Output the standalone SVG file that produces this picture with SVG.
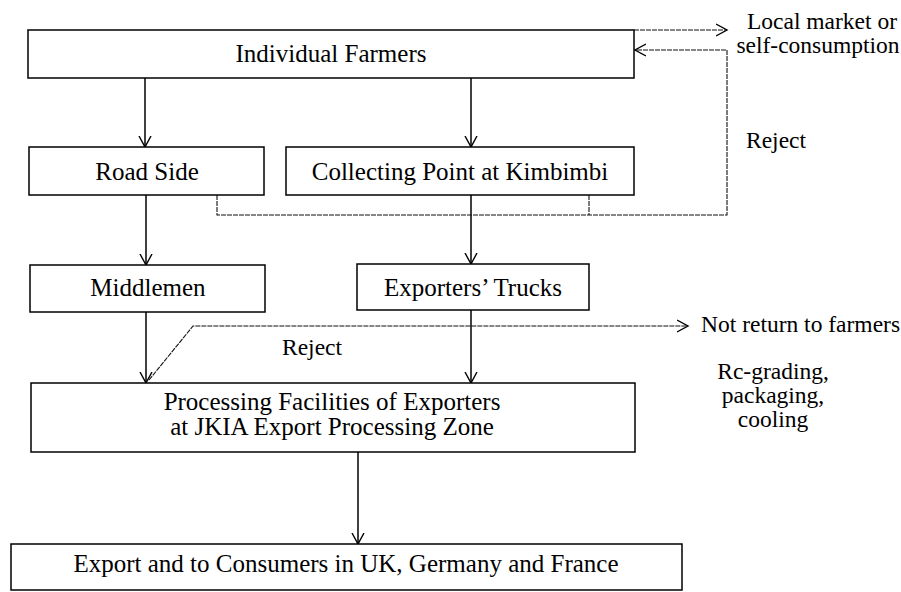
<svg xmlns="http://www.w3.org/2000/svg" width="901" height="592" viewBox="0 0 901 592">
<style>
.box{fill:#fff;stroke:#000;stroke-width:1.5}
.t{font-family:"Liberation Serif","Times New Roman",serif;font-size:25px;fill:#000;text-anchor:middle}
.s{font-family:"Liberation Serif","Times New Roman",serif;font-size:23.5px;fill:#000}
.a{fill:none;stroke:#000;stroke-width:1.5}
.r{fill:none;stroke:#111;stroke-width:1.1;stroke-dasharray:5 1}
</style>
<defs>
<marker id="v" markerUnits="userSpaceOnUse" markerWidth="14" markerHeight="14" refX="11" refY="6" orient="auto" viewBox="0 0 14 12">
<path d="M0,0 L11,6 L0,12" fill="none" stroke="#000" stroke-width="1.4"/>
</marker>
</defs>
<rect width="901" height="592" fill="#fff"/>
<g id="connectors">
<line class="a" x1="145" y1="78" x2="145" y2="147" marker-end="url(#v)"/>
<line class="a" x1="471" y1="78" x2="471" y2="147" marker-end="url(#v)"/>
<line class="a" x1="146" y1="195" x2="146" y2="265" marker-end="url(#v)"/>
<line class="a" x1="471" y1="195" x2="471" y2="264" marker-end="url(#v)"/>
<line class="a" x1="146" y1="312" x2="146" y2="383" marker-end="url(#v)"/>
<line class="a" x1="471" y1="310" x2="471" y2="383" marker-end="url(#v)"/>
<line class="a" x1="358" y1="452" x2="358" y2="544" marker-end="url(#v)"/>
<polyline class="r" points="634,30 727,30" marker-end="url(#v)"/>
<polyline class="r" points="217,195 217,215 727,215 727,50 635,50" marker-end="url(#v)"/>
<line class="r" x1="589" y1="195" x2="589" y2="215"/>
<polyline class="r" points="149,380 193,326 688,326" marker-end="url(#v)"/>
</g>
<g id="n-farmers">
<rect class="box" x="28" y="30" width="606" height="48"/>
<text class="t" x="331" y="62">Individual Farmers</text>
</g>
<g id="n-roadside">
<rect class="box" x="29" y="147" width="235" height="48"/>
<text class="t" x="147" y="180">Road Side</text>
</g>
<g id="n-collecting">
<rect class="box" x="286" y="147" width="348" height="48"/>
<text class="t" x="460" y="180">Collecting Point at Kimbimbi</text>
</g>
<g id="n-middlemen">
<rect class="box" x="30" y="265" width="235" height="47"/>
<text class="t" x="148" y="296">Middlemen</text>
</g>
<g id="n-trucks">
<rect class="box" x="357" y="264" width="232" height="46"/>
<text class="t" x="473" y="296">Exporters’ Trucks</text>
</g>
<g id="n-processing">
<rect class="box" x="31" y="383" width="604" height="69"/>
<text class="t" x="332" y="410">Processing Facilities of Exporters</text>
<text class="t" x="332" y="435">at JKIA Export Processing Zone</text>
</g>
<g id="n-export">
<rect class="box" x="11" y="544" width="671" height="46"/>
<text class="t" x="346" y="572">Export and to Consumers in UK, Germany and France</text>
</g>
<g id="labels">
<text class="s" x="822" y="29" text-anchor="middle">Local market or</text>
<text class="s" x="818" y="53" text-anchor="middle">self-consumption</text>
<text class="s" x="746" y="148">Reject</text>
<text class="s" x="282" y="355">Reject</text>
<text class="s" x="701" y="332">Not return to farmers</text>
<text class="s" x="773" y="379" text-anchor="middle">Rc-grading,</text>
<text class="s" x="773" y="403" text-anchor="middle">packaging,</text>
<text class="s" x="773" y="427" text-anchor="middle">cooling</text>
</g>
</svg>
